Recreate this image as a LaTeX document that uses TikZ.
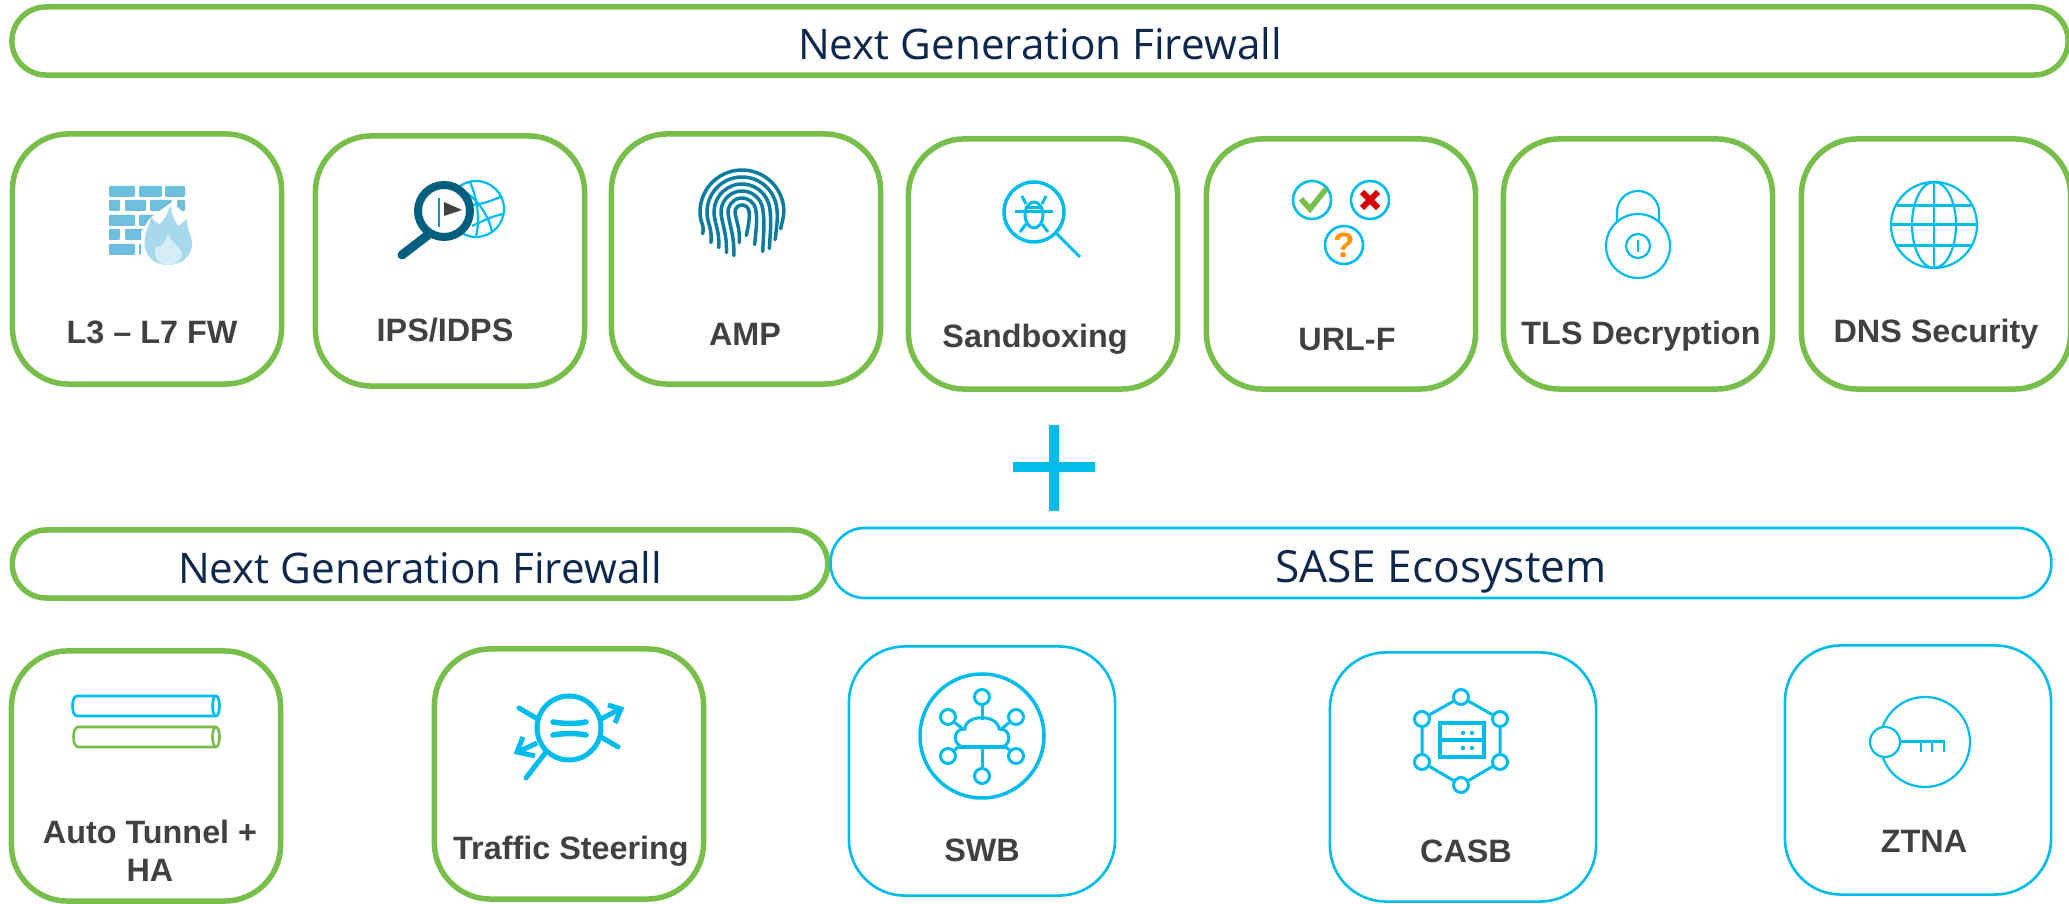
\documentclass[tikz,border=0pt]{standalone}
\usepackage{fontspec}
\setmainfont{Liberation Sans}
\newfontfamily\bannerfont{Open Sans}
\definecolor{fwgreen}{HTML}{78BE4A}
\definecolor{sasecyan}{HTML}{00BCEB}
\definecolor{navytext}{HTML}{0D274D}
\definecolor{labelgray}{HTML}{414143}
\definecolor{deepteal}{HTML}{005F7F}
\definecolor{fingerteal}{HTML}{0A7C9F}
\definecolor{brickblue}{HTML}{6DBFDD}
\tikzset{
  greencard/.style={draw=fwgreen,line width=.055cm,rounded corners=.56cm,minimum width=2.69cm,minimum height=2.5cm,inner sep=0},
  bluecard/.style={draw=sasecyan,line width=.026cm,rounded corners=.56cm,minimum width=2.66cm,minimum height=2.49cm,inner sep=0},
  greenbanner/.style={draw=fwgreen,line width=.055cm,rounded corners=.34cm,minimum height=.68cm,inner sep=0,text height=.38cm,text depth=0cm,text=navytext,font=\bannerfont\fontsize{12}{14}\selectfont},
  bluebanner/.style={draw=sasecyan,line width=.026cm,rounded corners=.34cm,minimum height=.7cm,inner sep=0,text height=.38cm,text depth=0cm,text=navytext,font=\bannerfont\fontsize{12.6}{14}\selectfont},
  cardlabel/.style={text=labelgray,font=\bfseries\fontsize{9.2}{10.8}\selectfont,align=center,inner sep=0},
  icon/.style={draw=sasecyan,line width=.03cm},
  thinicon/.style={draw=sasecyan,line width=.022cm},
  hub/.style={circle,draw=sasecyan,fill=white,line width=.03cm,minimum size=.15cm,inner sep=0},
  brick/.style={fill=brickblue,rounded corners=.01cm}
}
\begin{document}
\begin{tikzpicture}[x=.01cm,y=-.01cm]
\useasboundingbox (0,0) rectangle (2069,904);
\node[greenbanner,minimum width=20.55cm] (topbanner) at (1040,41) {Next Generation Firewall};
\node[greencard] (fw) at (147,259) {};
\node[greencard] (ips) at (450,261) {};
\node[greencard] (amp) at (746,259) {};
\node[greencard] (sandbox) at (1043,264) {};
\node[greencard] (urlf) at (1341,264) {};
\node[greencard] (tls) at (1638,264) {};
\node[greencard] (dns) at (1936,264) {};
\node[cardlabel] (fwlabel) at (152,332) {L3 – L7 FW};
\node[cardlabel] (ipslabel) at (445,330) {IPS/IDPS};
\node[cardlabel] (amplabel) at (745,334) {AMP};
\node[cardlabel] (sandboxlabel) at (1035,339) {Sandboxing};
\node[cardlabel] (urlflabel) at (1347,340) {URL-F};
\node[cardlabel] (tlslabel) at (1641,336) {TLS Decryption};
\node[cardlabel] (dnslabel) at (1936,334) {DNS Security};
\fill[sasecyan] (1013,462) rectangle (1095,472);
\fill[sasecyan] (1049,425) rectangle (1059,511);
\node[greenbanner,minimum width=8.15cm] (leftbanner) at (420,564) {Next Generation Firewall};
\node[bluebanner,minimum width=12.2cm] (sasebanner) at (1441,563) {SASE Ecosystem};
\node[greencard] (tunnel) at (146,776) {};
\node[greencard] (steer) at (569,774) {};
\node[bluecard] (swb) at (982,771) {};
\node[bluecard] (casb) at (1463,777) {};
\node[bluecard] (ztna) at (1918,770) {};
\node[cardlabel] (tunnellabel) at (150,851) {Auto Tunnel +\\HA};
\node[cardlabel] (steerlabel) at (571,851) {Traffic Steering};
\node[cardlabel] (swblabel) at (982,850) {SWB};
\node[cardlabel] (casblabel) at (1466,851) {CASB};
\node[cardlabel] (ztnalabel) at (1924,841) {ZTNA};
\foreach \xa/\xb in {109/135,139/162,165/185} {
  \fill[brick] (\xa,186) rectangle (\xb,197);
  \fill[brick] (\xa,244) rectangle (\xb,255);
  \fill[brick] (\xa,215) rectangle (\xb,226);
}
\foreach \xa/\xb in {109/120,125/146,150/172,177/185} {
  \fill[brick] (\xa,200) rectangle (\xb,211);
  \fill[brick] (\xa,229) rectangle (\xb,240);
}
\fill[white] (141,268) -- (141,232) -- (150,218) -- (172,202) -- (194,222) -- (194,268) -- cycle;
\fill[brickblue!60!white] (168,265) .. controls (150,265) and (142,250) .. (145,238) .. controls (146,228) and (150,226) .. (151,216) .. controls (154,222) and (158,224) .. (160,224) .. controls (164,220) and (168,214) .. (170,205) .. controls (172,214) and (174,220) .. (178,226) .. controls (181,224) and (184,222) .. (187,218) .. controls (186,228) and (193,238) .. (192,246) .. controls (190,258) and (180,265) .. (168,265) -- cycle;
\fill[brickblue!30!white] (168,265) .. controls (158,265) and (152,256) .. (156,246) .. controls (160,250) and (166,240) .. (168,234) .. controls (172,244) and (182,248) .. (182,254) .. controls (182,260) and (176,265) .. (168,265) -- cycle;
\draw[thinicon] (476,209) circle[radius=28];
\draw[thinicon] (462,190) .. controls (480,200) and (490,220) .. (492,232);
\draw[thinicon] (470,182) .. controls (478,200) and (480,222) .. (476,236);
\draw[thinicon] (468,205) .. controls (482,205) and (494,200) .. (502,196);
\draw[thinicon] (472,226) .. controls (485,220) and (495,215) .. (504,214);
\draw[deepteal,line width=.09cm,line cap=round] (428,235) -- (402,255);
\draw[deepteal,line width=.08cm,fill=white] (444,211) circle[radius=26];
\draw[sasecyan!60!deepteal,line width=.02cm] (439,198) -- (439,227);
\fill[labelgray] (444,202) -- (462,210) -- (444,216) -- cycle;
\foreach \r/\a/\b in {7/30/24,14/42/34,21/38/42,28/32/40,35/26/32,42/16/22} {
  \draw[fingerteal,line width=.035cm,line cap=round,rotate around={8:(742,212)}] (742-\r,212+\a) .. controls (742-\r+3,212+\a/2) and (742-\r,212+\a/3) .. (742-\r,212) arc[start angle=180,end angle=360,radius=\r] .. controls (742+\r,212+\b/3) and (742+\r-2,212+\b/2) .. (742+\r-6,212+\b);
}
\draw[icon,line width=.035cm] (1034,212) circle[radius=30];
\draw[icon] (1056,233) -- (1080,257);
\draw[icon,fill=white] (1034,215) ellipse[x radius=9,y radius=13];
\draw[icon] (1025,208) -- (1043,208);
\draw[icon] (1015,212) -- (1053,212);
\draw[icon] (1022,196) -- (1026,204) (1046,196) -- (1042,204);
\draw[icon] (1020,232) -- (1026,224) (1048,232) -- (1042,224);
\draw[thinicon,line width=.026cm] (1312,200) circle[radius=19];
\draw[thinicon,line width=.026cm] (1370,200) circle[radius=19];
\draw[thinicon,line width=.026cm] (1344,245) circle[radius=19];
\draw[fwgreen,line width=.055cm] (1301,199) -- (1310,209) -- (1326,189);
\draw[red!85!black,line width=.06cm] (1362,192) -- (1378,208) (1378,192) -- (1362,208);
\node[text=orange!85!yellow,font=\bfseries\fontsize{10}{12}\selectfont,inner sep=0] (qmark) at (1344,245) {?};
\draw[thinicon] (1617,225) -- (1617,212) arc[start angle=180,end angle=360,radius=21] -- (1659,225);
\draw[thinicon,fill=white] (1638,246) circle[radius=32];
\draw[thinicon] (1638,246) circle[radius=12];
\draw[thinicon] (1638,240) -- (1638,252);
\draw[thinicon] (1934,225) circle[radius=43];
\draw[thinicon] (1934,225) ellipse[x radius=22,y radius=43];
\draw[thinicon] (1934,182) -- (1934,268);
\draw[icon,line width=.03cm] (1897,206) -- (1971,206) (1891,225) -- (1977,225) (1897,246) -- (1971,246);
\draw[thinicon,line width=.026cm] (216,696) -- (77,696) .. controls (71,696) and (71,716) .. (77,716) -- (216,716);
\draw[thinicon,line width=.026cm] (216,706) ellipse[x radius=3.5,y radius=10];
\draw[fwgreen,line width=.026cm] (216,727) -- (78,727) .. controls (72,727) and (72,747) .. (78,747) -- (216,747);
\draw[fwgreen,line width=.026cm] (216,737) ellipse[x radius=3.5,y radius=10];
\draw[sasecyan,line width=.05cm] (569,728) circle[radius=32];
\draw[sasecyan,line width=.055cm,line cap=round] (553,722) .. controls (565,724) and (575,724) .. (586,722);
\draw[sasecyan,line width=.055cm,line cap=round] (553,735) .. controls (565,733) and (575,733) .. (586,735);
\draw[sasecyan,line width=.05cm,line cap=round] (546,752) -- (526,778);
\draw[sasecyan,line width=.05cm,line cap=round] (519,708) -- (536,718);
\draw[sasecyan,line width=.05cm,line cap=round] (601,737) -- (618,747);
\draw[sasecyan,line width=.05cm] (601,719) -- (620,709);
\draw[sasecyan,line width=.05cm] (608,705) -- (621,709) -- (615,723);
\draw[sasecyan,line width=.05cm] (537,743) -- (518,752);
\draw[sasecyan,line width=.05cm] (523,737) -- (517,752) -- (535,756);
\draw[icon,line width=.035cm] (982,736) circle[radius=62];
\coordinate (cloudtop) at (982,720);
\coordinate (cloudleft) at (964,730);
\coordinate (cloudright) at (1000,730);
\coordinate (baseleft) at (958,747);
\coordinate (basemid) at (982,747);
\coordinate (baseright) at (1006,747);
\node[hub] (swba) at (982,697) {};
\node[hub] (swbb) at (948,717) {};
\node[hub] (swbc) at (1016,717) {};
\node[hub] (swbd) at (948,756) {};
\node[hub] (swbe) at (1016,756) {};
\node[hub] (swbf) at (982,776) {};
\draw[icon] (swba) -- (cloudtop);
\draw[icon] (swbb) -- (cloudleft);
\draw[icon] (swbc) -- (cloudright);
\draw[icon] (swbd) -- (baseleft);
\draw[icon] (swbe) -- (baseright);
\draw[icon] (swbf) -- (basemid);
\draw[icon] (965,747) .. controls (952,747) and (952,728) .. (965,729) .. controls (965,714) and (998,714) .. (999,729) .. controls (1012,728) and (1012,747) .. (1000,747);
\draw[icon,line width=.04cm] (baseleft) -- (baseright);
\node[hub] (hexa) at (1461,697) {};
\node[hub] (hexb) at (1500,719) {};
\node[hub] (hexc) at (1500,762) {};
\node[hub] (hexd) at (1461,785) {};
\node[hub] (hexe) at (1422,762) {};
\node[hub] (hexf) at (1422,719) {};
\draw[icon] (hexa) -- (hexb) -- (hexc) -- (hexd) -- (hexe) -- (hexf) -- (hexa);
\draw[icon,line width=.035cm] (1440,723) rectangle (1484,757);
\draw[icon,line width=.035cm] (1440,740) -- (1484,740);
\fill[sasecyan] (1463,733) circle[radius=2.2] (1472,733) circle[radius=2.2] (1463,748) circle[radius=2.2] (1472,748) circle[radius=2.2];
\draw[thinicon] (1925,742) circle[radius=45];
\node[hub,line width=.022cm,minimum size=.3cm] (keyring) at (1885,742) {};
\coordinate (keytip) at (1945,742);
\draw[icon] (keyring) -- (keytip);
\draw[thinicon] (1921,742) -- (1921,752) (1932,742) -- (1932,752) (1944,742) -- (1944,752);
\end{tikzpicture}
\end{document}
